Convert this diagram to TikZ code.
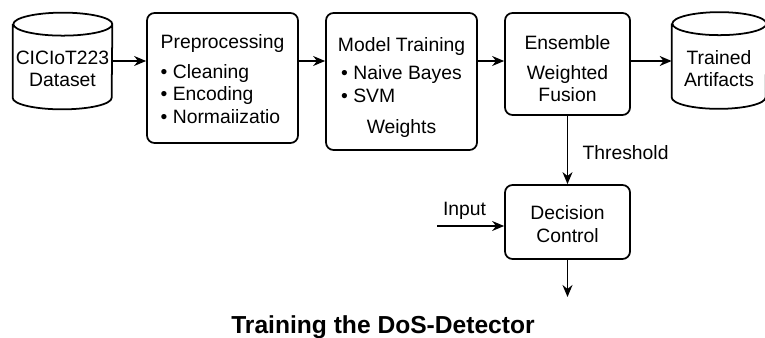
\documentclass[tikz,border=0pt]{standalone}
\usepackage{fontspec}
\setmainfont{Liberation Sans}
\usetikzlibrary{arrows.meta}

\begin{document}
\begin{tikzpicture}[
    font=\fontsize{11}{12.8}\selectfont,
    box/.style={draw, line width=1pt, rounded corners=1.5mm, inner sep=2pt},
    db/.style={minimum height=1.92cm, inner sep=0pt, align=center},
    dbline/.style={line width=1pt},
    flow/.style={line width=0.8pt, -{Stealth[length=2.4mm,width=2mm]}}
  ]
  \useasboundingbox (0,0) rectangle (15.3,-6.76);

  \node[db, minimum width=1.98cm] (data) at (1.25,-1.22) {\rule{0pt}{0.58cm}CICIoT223\\Dataset};
  \draw[dbline] ([yshift=-0.23cm]data.north west) -- ([yshift=0.23cm]data.south west)
    arc[start angle=180, end angle=360, x radius=0.99cm, y radius=0.23cm]
    -- ([yshift=-0.23cm]data.north east)
    arc[start angle=0, end angle=360, x radius=0.99cm, y radius=0.23cm];

  \node[box, minimum width=3.02cm, minimum height=2.6cm, align=left] (prep) at (4.45,-1.56)
    {\rule{0pt}{0.32cm}Preprocessing\\[4pt]\textbullet\ Cleaning\\\textbullet\ Encoding\\\textbullet\ Normaiizatio};
  \node[box, minimum width=3.02cm, minimum height=2.74cm, align=center] (train) at (8.03,-1.63)
    {\rule{0pt}{0.52cm}Model Training\\[4pt]\begin{tabular}{@{}l@{}}\textbullet\ Naive Bayes\\\textbullet\ SVM\end{tabular}\\[5pt]Weights};
  \node[box, minimum width=2.5cm, minimum height=2.04cm, align=center] (ens) at (11.35,-1.28)
    {\rule{0pt}{0.48cm}Ensemble\\[4pt]Weighted\\Fusion};

  \node[db, minimum width=1.88cm] (art) at (14.38,-1.21) {\rule{0pt}{0.6cm}Trained\\Artifacts};
  \draw[dbline] ([yshift=-0.23cm]art.north west) -- ([yshift=0.23cm]art.south west)
    arc[start angle=180, end angle=360, x radius=0.94cm, y radius=0.23cm]
    -- ([yshift=-0.23cm]art.north east)
    arc[start angle=0, end angle=360, x radius=0.94cm, y radius=0.23cm];

  \node[box, minimum width=2.5cm, minimum height=1.48cm, align=center] (dec) at (11.35,-4.44)
    {\rule{0pt}{0.36cm}Decision\\Control};

  \coordinate (inp) at (8.74,-4.52);
  \coordinate (out) at (11.35,-5.94);

  \draw[flow] (data.east) -- (data.east -| prep.west);
  \draw[flow] (prep.east |- data.east) -- (train.west |- data.east);
  \draw[flow] (train.east |- data.east) -- (ens.west |- data.east);
  \draw[flow] (ens.east |- data.east) -- (art.west |- data.east);
  \draw[flow] (ens.south) -- node[pos=0.54, right=0.17cm] {Threshold} (dec.north);
  \draw[flow] (inp) -- node[pos=0.41, above] {Input} (inp -| dec.west);
  \draw[flow] (dec.south) -- (out);

  \node[font=\fontsize{14}{17}\selectfont\bfseries, anchor=base] (title) at (7.66,-6.66)
    {Training the DoS-Detector};
\end{tikzpicture}
\end{document}
